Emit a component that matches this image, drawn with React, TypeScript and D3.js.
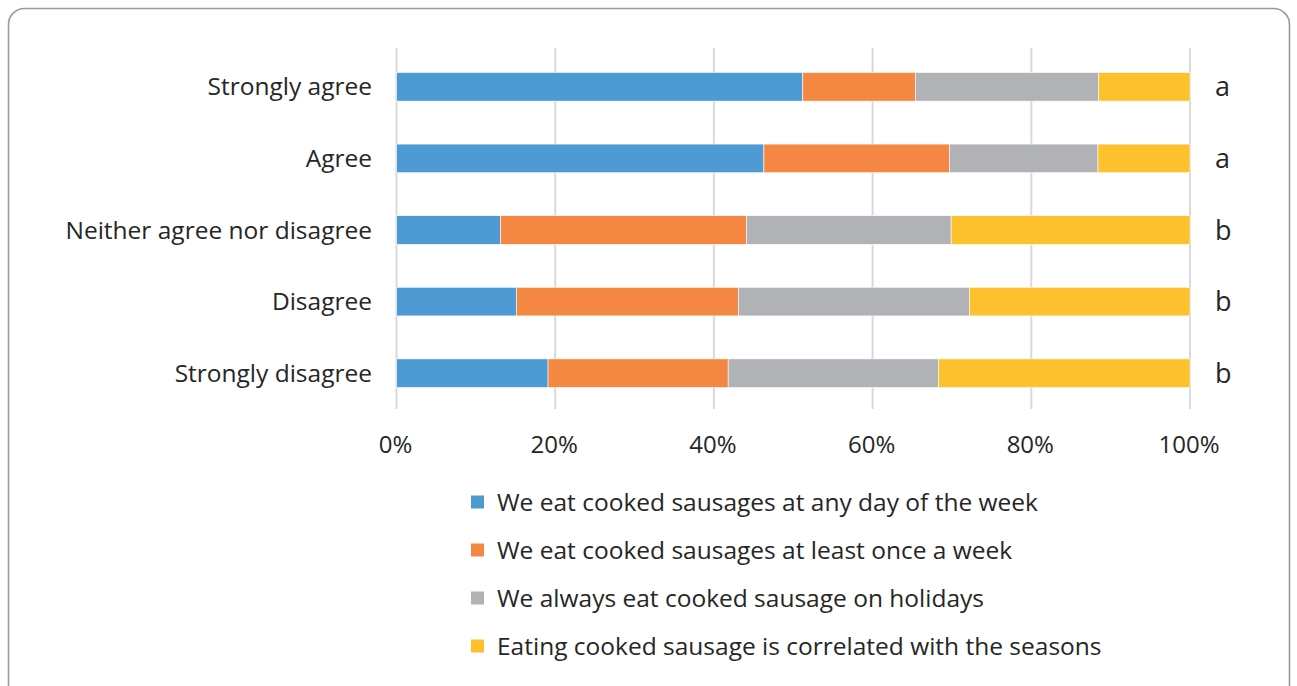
import React from "react";
import * as d3 from "d3";

const categories = ["Strongly agree", "Agree", "Neither agree nor disagree", "Disagree", "Strongly disagree"];
const letters = ["a", "a", "b", "b", "b"];
const seriesNames = [
  "We eat cooked sausages at any day of the week",
  "We eat cooked sausages at least once a week",
  "We always eat cooked sausage on holidays",
  "Eating cooked sausage is correlated with the seasons",
];
const anyDay = [51.2, 46.3, 13.1, 15.1, 19.1];
const onceWeek = [14.2, 23.4, 31.0, 28.0, 22.7];
const holidays = [23.1, 18.7, 25.8, 29.1, 26.5];
const seasons = [11.5, 11.6, 30.1, 27.8, 31.7];
const ticks = [0, 20, 40, 60, 80, 100];
const colors = ["#4e9ad3", "#f48843", "#b1b2b5", "#fdc12d"];

const W = 1297;
const H = 686;
const FONT = "'Open Sans', sans-serif";
const TEXT = "#262626";

export default function App() {
  const x = d3.scaleLinear().domain([0, 100]).range([396.5, 1190]);
  const y = d3.scaleBand().domain(categories).range([51, 409]).paddingInner(0.6).paddingOuter(0.3);
  const rows = categories.map((c, i) => ({ cat: c, v0: anyDay[i], v1: onceWeek[i], v2: holidays[i], v3: seasons[i] }));
  const stack = d3.stack<any>().keys(["v0", "v1", "v2", "v3"])(rows);

  return (
    <svg width={W} height={H} style={{ position: "absolute", left: 0, top: 0, background: "#fff" }} fontFamily={FONT}>
      <rect x={8.5} y={8.5} width={1281} height={700} rx={16} fill="#fff" stroke="#9a9a9a" strokeWidth={1.6} />
      {ticks.map((t) => (
        <line key={t} x1={x(t)} x2={x(t)} y1={48} y2={409} stroke="#d9d9d9" strokeWidth={2} />
      ))}
      {stack.map((s, si) => (
        <g key={si} fill={colors[si]}>
          {s.map((d: any, i: number) => (
            <rect
              key={i}
              x={x(d[0])}
              width={x(d[1]) - x(d[0])}
              y={y(categories[i])!}
              height={y.bandwidth()}
              stroke="#fff"
              strokeWidth={0.6}
            />
          ))}
        </g>
      ))}
      {categories.map((c, i) => (
        <g key={c}>
          <text x={372} y={y(c)! + y.bandwidth() / 2 - 1} textAnchor="end" dominantBaseline="central" fontSize={24.5} fill={TEXT}>
            {c}
          </text>
          <text x={1215} y={y(c)! + y.bandwidth() / 2 - 1} dominantBaseline="central" fontSize={27} fill={TEXT}>
            {letters[i]}
          </text>
        </g>
      ))}
      {ticks.map((t) => (
        <text key={t} x={x(t) - 1} y={443} textAnchor="middle" dominantBaseline="central" fontSize={24} fill={TEXT}>
          {t}%
        </text>
      ))}
      {seriesNames.map((n, i) => (
        <g key={n} transform={`translate(471, ${502 + i * 48})`}>
          <rect x={0} y={-6.5} width={13} height={13} fill={colors[i]} />
          <text x={26} y={-1} dominantBaseline="central" fontSize={24.5} fill={TEXT}>
            {n}
          </text>
        </g>
      ))}
    </svg>
  );
}
